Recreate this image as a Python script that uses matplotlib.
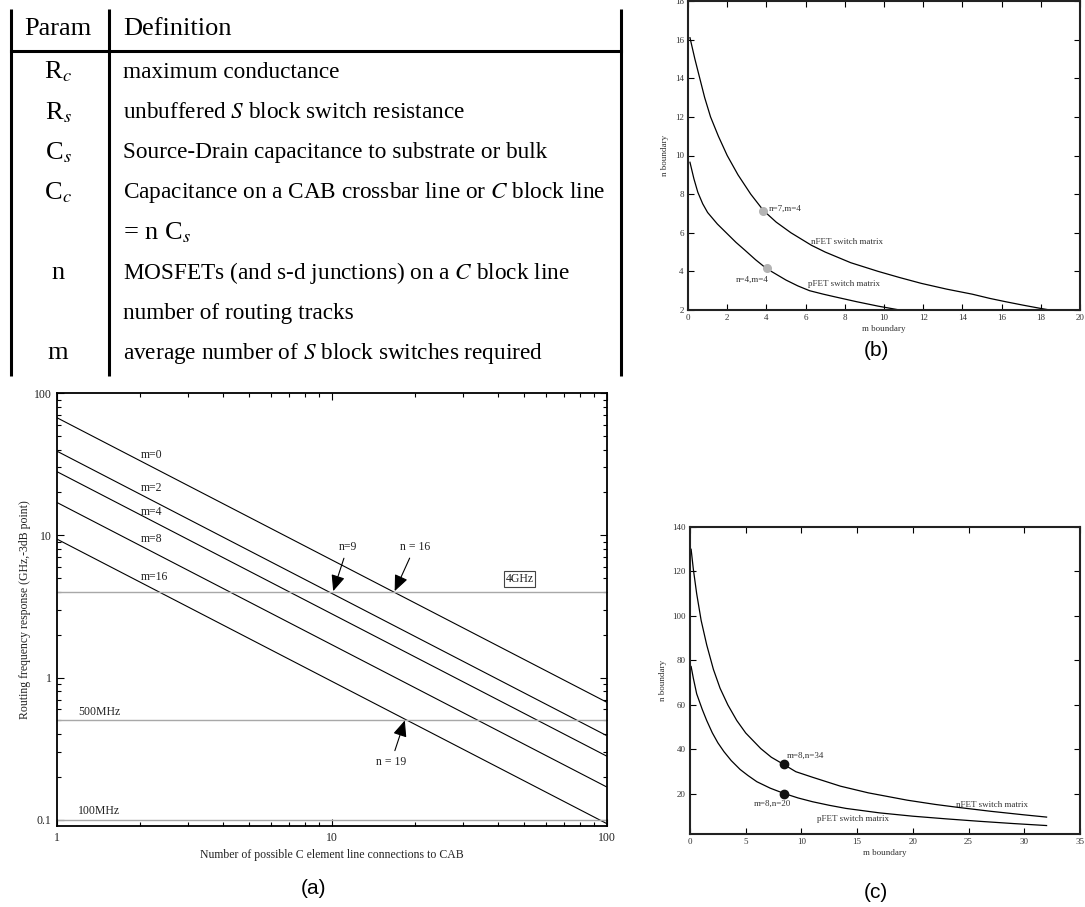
import matplotlib
matplotlib.use("Agg")
import matplotlib.pyplot as plt
from matplotlib.ticker import NullFormatter

plt.rcParams["font.family"] = ["Liberation Serif", "DejaVu Serif"]
plt.rcParams["mathtext.fontset"] = "stix"

W, H = 1085, 907

# ---- table -------------------------------------------------------------
table_params = ["R$_c$", "R$_s$", "C$_s$", "C$_c$", "", "n", "", "m"]
table_defs = [
    "maximum conductance",
    "unbuffered $S$ block switch resistance",
    "Source-Drain capacitance to substrate or bulk",
    "Capacitance on a CAB crossbar line or $C$ block line",
    "= n C$_s$",
    "MOSFETs (and s-d junctions) on a $C$ block line",
    "number of routing tracks",
    "average number of $S$ block switches required",
]

# ---- (a) routing frequency vs. C element connections -------------------
conn_range = [1, 100]
m_labels = ["m=0", "m=2", "m=4", "m=8", "m=16"]
freq_at_1 = [67, 39, 28, 17, 9.4]              # GHz at 1 connection
freq_at_100 = [0.67, 0.39, 0.28, 0.17, 0.094]  # GHz at 100 connections
m_label_y = [36.6, 21.5, 14.6, 9.4, 5.1]
ref_levels = [4, 0.5, 0.1]

# ---- (b) nFET / pFET boundary, small range -----------------------------
b_nfet_m = [0.1, 0.35, 0.6, 0.85, 1.15, 1.55, 2.0, 2.55, 3.2, 3.85, 4.5, 5.25, 6.3, 7.0,
            8.3, 9.7, 10.8, 11.9, 13.2, 14.5, 15.4, 16.2, 17.1, 18.0, 18.7]
b_nfet_n = [16.1, 15.0, 14.0, 13.0, 12.0, 11.0, 10.0, 9.0, 8.0, 7.15, 6.55, 6.0, 5.35, 5.0,
            4.45, 4.0, 3.68, 3.38, 3.08, 2.82, 2.6, 2.43, 2.25, 2.08, 1.96]
b_pfet_m = [0.1, 0.3, 0.5, 0.75, 1.0, 1.5, 2.0, 2.45, 2.9, 3.45, 4.0, 4.5, 5.0, 5.6, 6.2,
            6.9, 7.5, 8.6, 9.7, 10.8]
b_pfet_n = [9.65, 8.8, 8.1, 7.5, 7.05, 6.45, 5.95, 5.5, 5.1, 4.6, 4.15, 3.85, 3.55, 3.25, 3.0,
            2.82, 2.68, 2.43, 2.2, 2.0]
b_pts_m = [3.85, 4.05]
b_pts_n = [7.15, 4.15]

# ---- (c) nFET / pFET boundary, large range -----------------------------
c_nfet_m = [0.1, 0.3, 0.6, 1.0, 1.5, 2.1, 2.7, 3.4, 4.2, 5.0, 6.35, 7.3, 8.4, 9.5, 11,
            13.5, 16, 19.5, 22, 24, 27, 30, 32]
c_nfet_n = [130, 121, 110, 98, 87, 76, 67.5, 60, 53, 47.4, 40.4, 36.5, 33.3, 30, 27.5,
            23.5, 20.5, 17.2, 15.3, 14.0, 12.2, 10.6, 9.6]
c_pfet_m = [0.1, 0.3, 0.6, 1.1, 1.5, 2.0, 2.5, 3.05, 3.7, 4.5, 5.2, 6, 7.2, 8.4, 9.7, 11,
            12.5, 14, 17, 20, 23, 26, 29, 32]
c_pfet_n = [77.3, 72, 65, 58, 53, 47.5, 43, 39, 35, 31, 28.3, 25.5, 22.6, 20.3, 18.2, 16.5,
            14.9, 13.5, 11.5, 10, 8.8, 7.7, 6.7, 5.8]
c_pts_m = [8.4, 8.4]
c_pts_n = [33.3, 20.1]


def px_rect(l, t, r, b):
    return [l / W, 1 - b / H, (r - l) / W, (b - t) / H]


fig = plt.figure(figsize=(W / 100, H / 100), dpi=100)

# table drawn in pixel coordinates
ax_t = fig.add_axes(px_rect(0, 0, 640, 380))
ax_t.set_xlim(0, 640)
ax_t.set_ylim(380, 0)
ax_t.axis("off")
for x in (11, 109, 621):
    ax_t.plot([x, x], [9, 376], color="k", lw=2.2, clip_on=False, solid_capstyle="butt")
ax_t.plot([11, 621], [51, 51], color="k", lw=2.2, clip_on=False)
fs_body = 16.75
fs_head = 19
ax_t.text(58, 29, "Param", ha="center", va="center", fontsize=fs_head)
ax_t.text(123, 29, "Definition", ha="left", va="center", fontsize=fs_head)
for i, (p, d) in enumerate(zip(table_params, table_defs)):
    y = 72 + 40.2 * i
    ax_t.text(58, y, p, ha="center", va="center", fontsize=fs_head)
    ax_t.text(123, y, d, ha="left", va="center",
              fontsize=fs_head if d.startswith("=") else fs_body)

txt_col = "#222222"

# ---- panel (a) ----
ax_a = fig.add_axes(px_rect(57, 393, 607, 826))
for a, b in zip(freq_at_1, freq_at_100):
    ax_a.plot(conn_range, [a, b], color="k", lw=0.8)
for lvl in ref_levels:
    ax_a.axhline(lvl, color="#a8a8a8", lw=1.0)
ax_a.set_xscale("log")
ax_a.set_yscale("log")
ax_a.set_xlim(1, 100)
ax_a.set_ylim(0.0906, 100)
ax_a.set_xticks([1, 10, 100], labels=["1", "10", "100"])
ax_a.set_yticks([0.1, 1, 10, 100], labels=["0.1", "1", "10", "100"])
ax_a.xaxis.set_minor_formatter(NullFormatter())
ax_a.yaxis.set_minor_formatter(NullFormatter())
ax_a.tick_params(which="both", direction="in", top=True, right=True,
                 labelsize=8.5, labelcolor=txt_col, width=0.8)
ax_a.tick_params(which="major", length=5, pad=4)
ax_a.tick_params(which="minor", length=3)
for s in ax_a.spines.values():
    s.set_linewidth(1.3)
ax_a.set_xlabel("Number of possible C element line connections to CAB",
                fontsize=8.5, color=txt_col, labelpad=4)
ax_a.set_ylabel("Routing frequency response (GHz,-3dB point)",
                fontsize=8.5, color=txt_col, labelpad=2)
for lab, y in zip(m_labels, m_label_y):
    ax_a.text(2.02, y, lab, ha="left", va="center", fontsize=8.5, color=txt_col)
ax_a.text(1.19, 0.573, "500MHz", ha="left", va="center", fontsize=8.5, color=txt_col)
ax_a.text(1.19, 0.1156, "100MHz", ha="left", va="center", fontsize=8.5, color=txt_col)
ax_a.text(48.1, 4.93, "4GHz", ha="center", va="center", fontsize=8.5, color=txt_col,
          bbox=dict(boxstyle="square,pad=0.15", fc="white", ec="#444444", lw=0.8))
arrow = dict(arrowstyle="-|>,head_length=0.7,head_width=0.3", color="k", lw=0.8,
             shrinkA=2, shrinkB=0, mutation_scale=14)
ax_a.annotate("n=9", xy=(10.1, 4.05), xytext=(11.4, 8.3), ha="center", va="center",
              fontsize=8.5, color=txt_col, arrowprops=arrow)
ax_a.annotate("n = 16", xy=(16.9, 4.05), xytext=(20.0, 8.3), ha="center", va="center",
              fontsize=8.5, color=txt_col, arrowprops=arrow)
ax_a.annotate("n = 19", xy=(18.4, 0.5), xytext=(16.4, 0.255), ha="center", va="center",
              fontsize=8.5, color=txt_col, arrowprops=arrow)


def style_small(ax):
    ax.tick_params(direction="in", top=True, right=True, length=4, width=0.8,
                   labelsize=6.5, labelcolor="#333333", pad=3)
    for s in ax.spines.values():
        s.set_linewidth(1.5)
        s.set_color("#222222")


# ---- panel (b) ----
ax_b = fig.add_axes(px_rect(688, 1, 1080, 310))
ax_b.plot(b_nfet_m, b_nfet_n, color="k", lw=0.9)
ax_b.plot(b_pfet_m, b_pfet_n, color="k", lw=0.9)
ax_b.plot(b_pts_m, b_pts_n, "o", color="#b4b4b4", ms=5.5, zorder=3)
ax_b.set_xlim(0, 20)
ax_b.set_ylim(2, 18)
ax_b.set_xticks(range(0, 21, 2))
ax_b.set_yticks(range(2, 19, 2))
style_small(ax_b)
ax_b.set_xlabel("m boundary", fontsize=6.5, color="#333333", labelpad=2)
ax_b.set_ylabel("n boundary", fontsize=6.5, color="#333333", labelpad=4)
ax_b.text(4.1, 7.25, "n=7,m=4", ha="left", va="center", fontsize=6.5, color="#333333")
ax_b.text(3.3, 3.55, "n=4,m=4", ha="center", va="center", fontsize=6.5, color="#333333")
ax_b.text(6.27, 5.5, "nFET switch matrix", ha="left", va="center", fontsize=6.5, color="#333333")
ax_b.text(6.1, 3.35, "pFET switch matrix", ha="left", va="center", fontsize=6.5, color="#333333")

# ---- panel (c) ----
ax_c = fig.add_axes(px_rect(690, 527, 1080, 834))
ax_c.plot(c_nfet_m, c_nfet_n, color="k", lw=0.9)
ax_c.plot(c_pfet_m, c_pfet_n, color="k", lw=0.9)
ax_c.plot(c_pts_m, c_pts_n, "o", color="#111111", ms=6, zorder=3)
ax_c.set_xlim(0, 35)
ax_c.set_ylim(2, 140)
ax_c.set_xticks(range(0, 36, 5))
ax_c.set_yticks(range(20, 141, 20))
style_small(ax_c)
ax_c.set_xlabel("m boundary", fontsize=6.5, color="#333333", labelpad=2)
ax_c.set_ylabel("n boundary", fontsize=6.5, color="#333333", labelpad=4)
ax_c.text(8.7, 37.3, "m=8,n=34", ha="left", va="center", fontsize=6.5, color="#333333")
ax_c.text(7.4, 15.4, "m=8,n=20", ha="center", va="center", fontsize=6.5, color="#333333")
ax_c.text(23.9, 15.0, "nFET switch matrix", ha="left", va="center", fontsize=6.5, color="#333333")
ax_c.text(11.4, 8.7, "pFET switch matrix", ha="left", va="center", fontsize=6.5, color="#333333")

# panel captions
for lab, x, y in [("(a)", 314, 888), ("(b)", 876, 350), ("(c)", 876, 893)]:
    fig.text(x / W, 1 - y / H, lab, ha="center", va="center", fontsize=15,
             family="Liberation Sans")

fig.savefig("out.png", dpi=100)
